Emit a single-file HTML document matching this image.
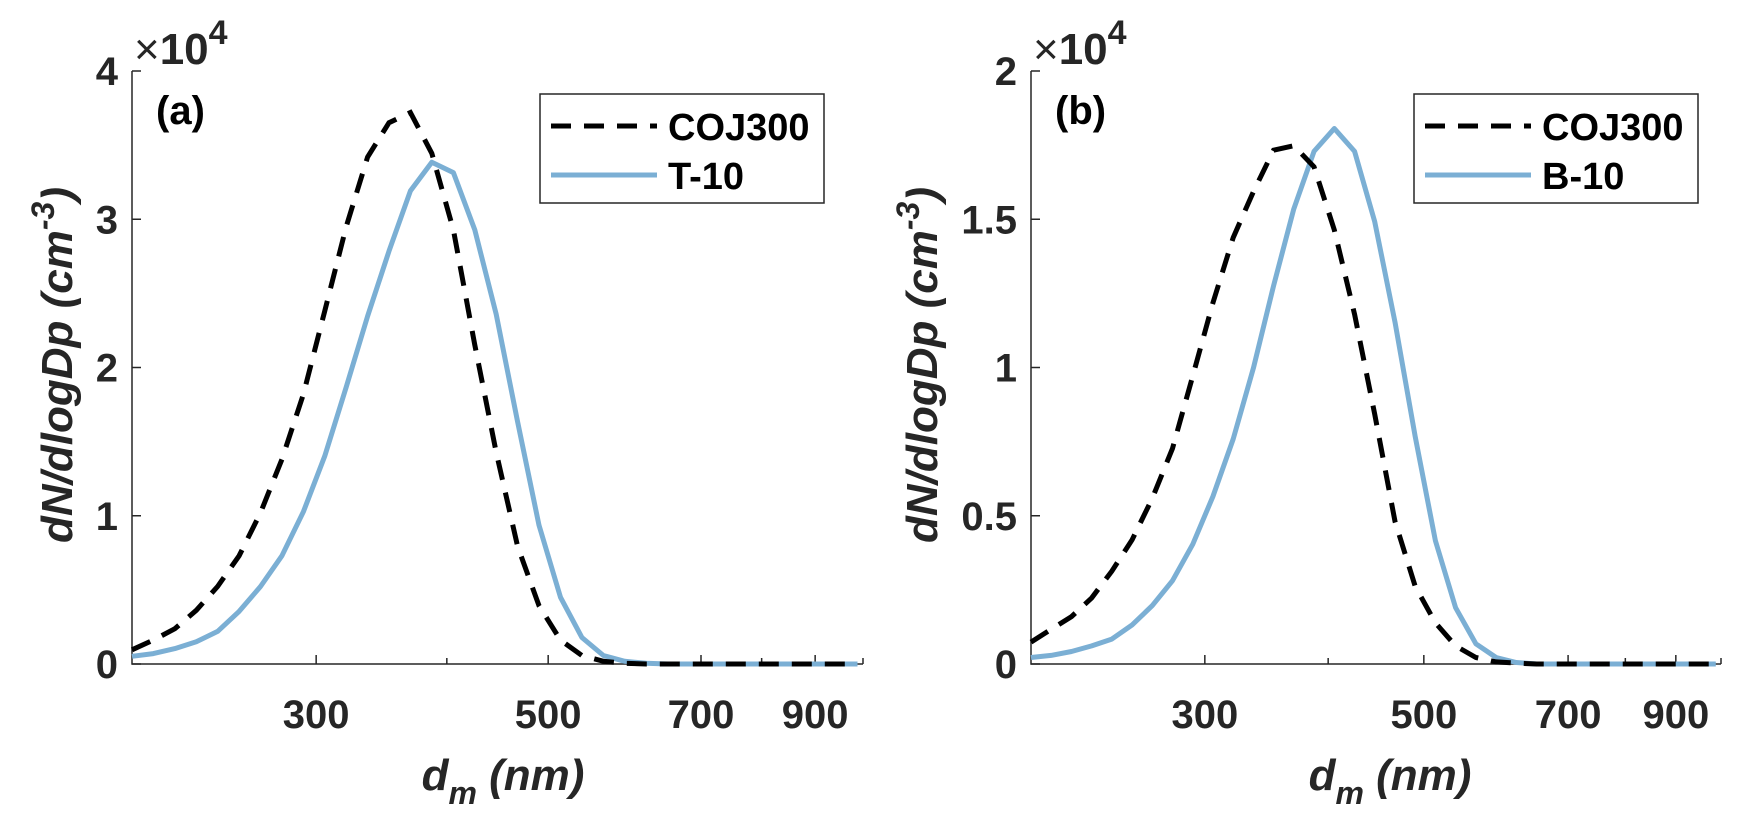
<!DOCTYPE html>
<html><head><meta charset="utf-8"><style>
html,body{margin:0;padding:0;background:#fff;}
svg{display:block;font-family:"Liberation Sans",Arial,sans-serif;}
</style></head><body>
<svg id="fig" width="1743" height="828" viewBox="0 0 1743 828" xmlns="http://www.w3.org/2000/svg"></svg>
<script>
const diameters = [200,209.6,219.8,230.4,241.5,253.2,265.4,278.2,291.7,305.7,320.5,336,352.2,369.2,387,405.8,425.4,445.9,467.5,490,513.7,538.5,564.6,591.8,620.4,650.4,681.8,714.8,749.3,785.5,823.5,863.3,905,948.7,988];
const cojA = [0.096,0.161,0.238,0.362,0.523,0.730,1.020,1.380,1.820,2.380,2.950,3.420,3.651,3.72,3.445,2.928,2.152,1.428,0.794,0.393,0.161,0.057,0.018,0.005,0,0,0,0,0,0,0,0,0,0,0];
const t10A = [0.052,0.070,0.104,0.150,0.220,0.355,0.523,0.730,1.027,1.402,1.868,2.346,2.785,3.191,3.385,3.315,2.928,2.359,1.634,0.936,0.450,0.179,0.057,0.018,0.005,0,0,0,0,0,0,0,0,0,0];
const cojB = [0.074,0.117,0.160,0.223,0.313,0.419,0.559,0.727,0.972,1.218,1.438,1.593,1.733,1.748,1.677,1.464,1.179,0.843,0.481,0.262,0.139,0.061,0.022,0.007,0.003,0,0,0,0,0,0,0,0,0,0];
const b10B = [0.022,0.029,0.042,0.061,0.084,0.132,0.197,0.281,0.404,0.565,0.759,0.998,1.276,1.535,1.729,1.806,1.729,1.492,1.153,0.767,0.416,0.190,0.068,0.022,0.005,0,0,0,0,0,0,0,0,0,0];
const xTickVals = [300,400,500,700,800,900,1000];
const xTickLabels = ["300","","500","700","","900",""];
const yTicksA = [0,1,2,3,4];
const yTickLabelsA = ["0","1","2","3","4"];
const yTicksB = [0,0.5,1,1.5,2];
const yTickLabelsB = ["0","0.5","1","1.5","2"];

const NS = "http://www.w3.org/2000/svg";
const svg = document.getElementById('fig');
function el(tag, attrs, parent, text){
  const e = document.createElementNS(NS, tag);
  for (const k in attrs) e.setAttribute(k, attrs[k]);
  if (text !== undefined) e.textContent = text;
  (parent||svg).appendChild(e);
  return e;
}

function panel(cfg){
  const g = el('g', {});
  
  
  const x0=cfg.x0, x1=cfg.x1, yTop=71, yBot=664;
  const xs = v => x0 + (Math.log10(v) - Math.log10(200)) / (Math.log10(1000) - Math.log10(200)) * (x1 - x0);
  const ys = v => yBot - v / cfg.ymax * (yBot - yTop);
  const ax = el('path', {d:`M${x0},${yTop} L${x0},${yBot} L${x1},${yBot}`, fill:'none', stroke:'#262626', 'stroke-width':1.5}, g);
  
  
  xTickVals.forEach((v,i)=>{
    const x = xs(v);
    const t = el('line', {x1:x, x2:x, y1:yBot, y2:yBot-(xTickLabels[i]?9:6), stroke:'#262626','stroke-width':1.5}, g);
    
    
    if (xTickLabels[i]) {
      const l = el('text', {x:x, y:728, 'text-anchor':'middle', 'font-size':40, 'font-weight':'bold', fill:'#262626'}, g, xTickLabels[i]);
      
      
    }
  });
  cfg.yticks.forEach((v,i)=>{
    const y = ys(v);
    const t = el('line', {x1:x0, x2:x0+9, y1:y, y2:y, stroke:'#262626','stroke-width':1.5}, g);
    
    
    const l = el('text', {x:x0-14, y:y+14, 'text-anchor':'end', 'font-size':40, 'font-weight':'bold', fill:'#262626'}, g, cfg.ylabels[i]);
    
    
  });
  const ex = el('text', {x:x0+2, y:64, 'font-size':44, fill:'#262626'}, g);
  
  
  el('tspan', {}, ex, '×');
  el('tspan', {'font-weight':'bold'}, ex, '10');
  el('tspan', {'font-weight':'bold', dy:-20, 'font-size':34}, ex, '4');
  const pl = el('text', {x:x0+24, y:124, 'font-size':40, 'font-weight':'bold', fill:'#000'}, g, cfg.tag);
  
  
  const yt = el('text', {transform:`translate(${cfg.ytx},365) rotate(-90)`, 'text-anchor':'middle', 'font-size':44, 'font-weight':'bold', 'font-style':'italic', fill:'#262626'}, g);
  
  
  el('tspan', {}, yt, 'dN/dlogDp (cm');
  el('tspan', {dy:-18, 'font-size':32}, yt, '-3');
  el('tspan', {dy:18}, yt, ')');
  const xt = el('text', {x:cfg.xtx, y:790, 'text-anchor':'middle', 'font-size':44, 'font-weight':'bold', 'font-style':'italic', fill:'#262626'}, g);
  
  
  el('tspan', {}, xt, 'd');
  el('tspan', {dy:14, 'font-size':32}, xt, 'm');
  el('tspan', {dy:-14}, xt, ' (nm)');
  const mk = arr => diameters.map((d,i)=>`${i?'L':'M'}${xs(d).toFixed(1)},${ys(arr[i]).toFixed(1)}`).join(' ');
  const s2 = el('path', {d:mk(cfg.s2), fill:'none', stroke:'#7bafd4', 'stroke-width':5, 'stroke-linejoin':'round'}, g);
  
  
  const s1 = el('path', {d:mk(cfg.s1), fill:'none', stroke:'#000', 'stroke-width':5, 'stroke-dasharray':'20 13'}, g);
  
  
  const lg = el('g', {}, g);
  
  
  const lx = cfg.lx;
  el('rect', {x:lx, y:94, width:284, height:109, fill:'#fff', stroke:'#262626', 'stroke-width':1.5}, lg);
  const e1 = el('line', {x1:lx+11, x2:lx+117, y1:126, y2:126, stroke:'#000','stroke-width':5,'stroke-dasharray':'20 13'}, lg);
  
  
  el('text', {x:lx+128, y:140, 'font-size':38, 'font-weight':'bold', fill:'#000'}, lg, 'COJ300');
  const e2 = el('line', {x1:lx+11, x2:lx+117, y1:175, y2:175, stroke:'#7bafd4','stroke-width':5}, lg);
  
  
  el('text', {x:lx+128, y:189, 'font-size':38, 'font-weight':'bold', fill:'#000'}, lg, cfg.s2name);
}

panel({name:'panel-a', x0:132, x1:863, ymax:4, yticks:yTicksA, ylabels:yTickLabelsA, tag:'(a)', ytx:72, xtx:503, s1:cojA, s2:t10A, s2name:'T-10', lx:540});
panel({name:'panel-b', x0:1031, x1:1721, ymax:2, yticks:yTicksB, ylabels:yTickLabelsB, tag:'(b)', ytx:937, xtx:1390, s1:cojB, s2:b10B, s2name:'B-10', lx:1414});
</script>
</body></html>
